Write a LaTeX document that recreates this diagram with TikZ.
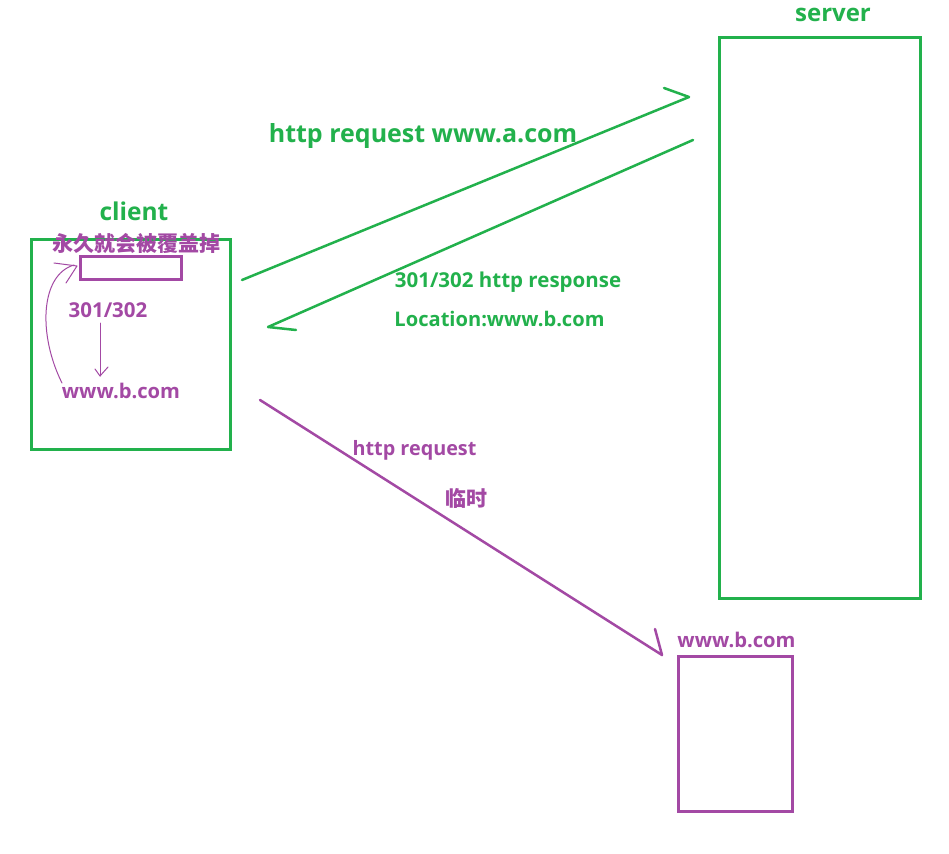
\documentclass[tikz,border=0pt]{standalone}
\usepackage{fontspec}
\setmainfont{Open Sans}
\newfontfamily\cjk{Noto Sans CJK SC}
\definecolor{pgreen}{HTML}{22B14C}
\definecolor{ppurple}{HTML}{A349A4}
\tikzset{
  gtxt/.style={text=pgreen, inner sep=0pt, font=\bfseries\fontsize{#1}{#1}\selectfont},
  ptxt/.style={text=ppurple, inner sep=0pt, font=\bfseries\fontsize{#1}{#1}\selectfont},
  gline/.style={draw=pgreen, line width=2.5pt, line join=round, line cap=round},
  pline/.style={draw=ppurple, line width=2.5pt, line join=round, line cap=round},
  thinp/.style={draw=ppurple, line width=1pt, line join=round, line cap=round},
}
\begin{document}
\begin{tikzpicture}[x=1pt,y=-1pt]
\useasboundingbox[fill=white] (0,0) rectangle (949,853);
% boxes
\node[draw=pgreen, line width=3pt, inner sep=0pt, minimum width=201pt, minimum height=560pt] (server) at (819.5,318) {};
\node[draw=pgreen, line width=3pt, inner sep=0pt, minimum width=199pt, minimum height=210pt] (client) at (130.5,344) {};
\node[draw=ppurple, line width=3pt, inner sep=0pt, minimum width=114pt, minimum height=155pt] (bbox) at (735,733.5) {};
\node[draw=ppurple, line width=3pt, inner sep=0pt, minimum width=101pt, minimum height=23pt] (slot) at (130.5,267.5) {};
% labels
\node[gtxt=24] (lserver) at (833,14.5) {server};
\node[gtxt=24.5] (lclient) at (134,211) {client};
\node[ptxt=21] (lperm) at (136,243) {\cjk\bfseries 永久就会被覆盖掉};
\node[ptxt=20.5] (l301) at (108,310) {301/302};
\node[ptxt=20.2] (lwwwb) at (121,391) {www.b.com};
\node[gtxt=25] (lreq) at (423,136) {http request www.a.com};
\node[gtxt=20.5] (lresp) at (508,282) {301/302 http response};
\node[gtxt=20.1] (lloc) at (499.5,319) {Location:www.b.com};
\node[ptxt=19.8] (lreq2) at (414.5,450) {http request};
\node[ptxt=21] (ltemp) at (466.5,498) {\cjk\bfseries 临时};
\node[ptxt=20.2] (lbb) at (736.5,640) {www.b.com};
% connector end points
\coordinate (a1s) at (242,280);
\coordinate (a1e) at (689,97);
\coordinate (a2s) at (693,140);
\coordinate (a2e) at (268,327);
\coordinate (a3s) at (260,400);
\coordinate (a3e) at (662,655);
% request to server
\draw[gline] (a1s) -- (a1e) -- ++(-25,-9);
% response to client
\draw[gline] (a2s) -- (a2e) -- ++(28,3);
% request to www.b.com
\draw[pline] (a3s) -- (a3e) -- ++(-7,-26);
% inner arrows
\coordinate (c1) at (100,323);
\coordinate (c2) at (100,376);
\draw[thinp] (c1) -- (c2);
\draw[thinp] (95,369) -- (c2) -- (108,367);
\coordinate (k1) at (62,383);
\coordinate (k2) at (74,265);
\draw[thinp] (k1) .. controls (38,335) and (40,275) .. (k2);
\draw[thinp] (54,263) -- (77,266) -- (66,283);
\end{tikzpicture}
\end{document}
